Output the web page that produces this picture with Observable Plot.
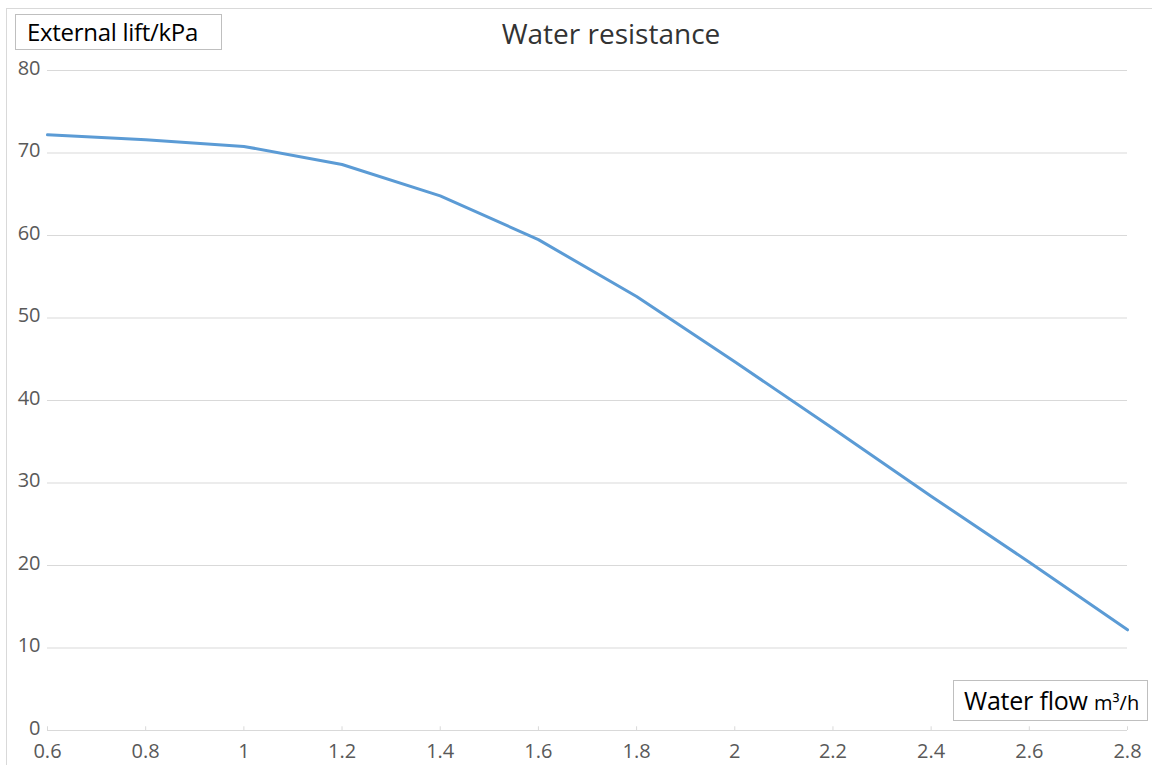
<!DOCTYPE html>
<html>
<head>
<meta charset="utf-8">
<script src="https://cdn.jsdelivr.net/npm/d3@7"></script>
<script src="https://cdn.jsdelivr.net/npm/@observablehq/plot@0.6"></script>
<style>
  html, body { margin: 0; padding: 0; background: #fff; }
  #wrap { position: relative; width: 1152px; height: 765px; overflow: hidden; font-family: "Open Sans", "Noto Sans", sans-serif; }
  #frame { position: absolute; left: 6px; top: 8px; width: 1150px; height: 770px; border: 1px solid #d9d9d9; box-sizing: border-box; }
  .title { position: absolute; left: 0; width: 1222px; top: 14px; text-align: center; font-size: 28px; color: #333; }
  .box { position: absolute; border: 1px solid #bfbfbf; background: #fff; color: #000; box-sizing: border-box; white-space: nowrap; }
  #ylab { left: 15px; top: 14px; width: 207px; height: 36px; font-size: 24px; line-height: 34px; padding-left: 11px; letter-spacing: -0.3px; }
  #xlab { left: 953px; top: 680px; width: 195px; height: 41px; font-size: 25px; line-height: 38px; padding-left: 10px; letter-spacing: -0.2px; }
  #xlab small { font-size: 20px; letter-spacing: 0; }
  svg { position: absolute; left: 0; top: 0; }
</style>
</head>
<body>
<div id="wrap">
  <div id="frame"></div>
  <div id="chart"></div>
  <div class="title">Water resistance</div>
  <div class="box" id="ylab">External lift/kPa</div>
  <div class="box" id="xlab">Water flow <small>m³/h</small></div>
</div>
<script>
const flow = [0.6, 0.8, 1.0, 1.2, 1.4, 1.6, 1.8, 2.0, 2.2, 2.4, 2.6, 2.8];
const lift = [72.2, 71.6, 70.8, 68.6, 64.8, 59.5, 52.6, 44.7, 36.6, 28.4, 20.4, 12.2];
const xTicks = [0.6, 0.8, 1.0, 1.2, 1.4, 1.6, 1.8, 2.0, 2.2, 2.4, 2.6, 2.8];
const yTicks = [0, 10, 20, 30, 40, 50, 60, 70, 80];

const data = flow.map((f, i) => ({flow: f, lift: lift[i]}));

const chart = Plot.plot({
  width: 1152,
  height: 765,
  marginLeft: 47,
  marginRight: 25,
  marginTop: 70,
  marginBottom: 35,
  style: {fontFamily: '"Open Sans", "Noto Sans", sans-serif', background: "transparent", overflow: "visible"},
  x: {domain: [0.6, 2.8]},
  y: {domain: [0, 80]},
  marks: [
    Plot.gridY(yTicks.filter(d => d > 0), {stroke: "#d9d9d9", strokeOpacity: 1, strokeWidth: 1}),
    Plot.ruleY([0], {stroke: "#d9d9d9", strokeWidth: 1}),
    Plot.ruleX(xTicks, {y1: 0, y2: 0.45, stroke: "#d9d9d9", strokeWidth: 1}),
    Plot.axisY(yTicks, {tickSize: 0, tickPadding: 7, fontSize: 20, fill: "#595959", label: null, dy: -2}),
    Plot.axisX(xTicks, {tickSize: 0, tickPadding: 13, fontSize: 20, fill: "#595959", label: null, tickFormat: d3.format("")}),
    Plot.line(data, {x: "flow", y: "lift", stroke: "#5b9bd5", strokeWidth: 3, strokeLinejoin: "round", strokeLinecap: "round"})
  ]
});
document.getElementById("chart").appendChild(chart);
</script>
</body>
</html>
